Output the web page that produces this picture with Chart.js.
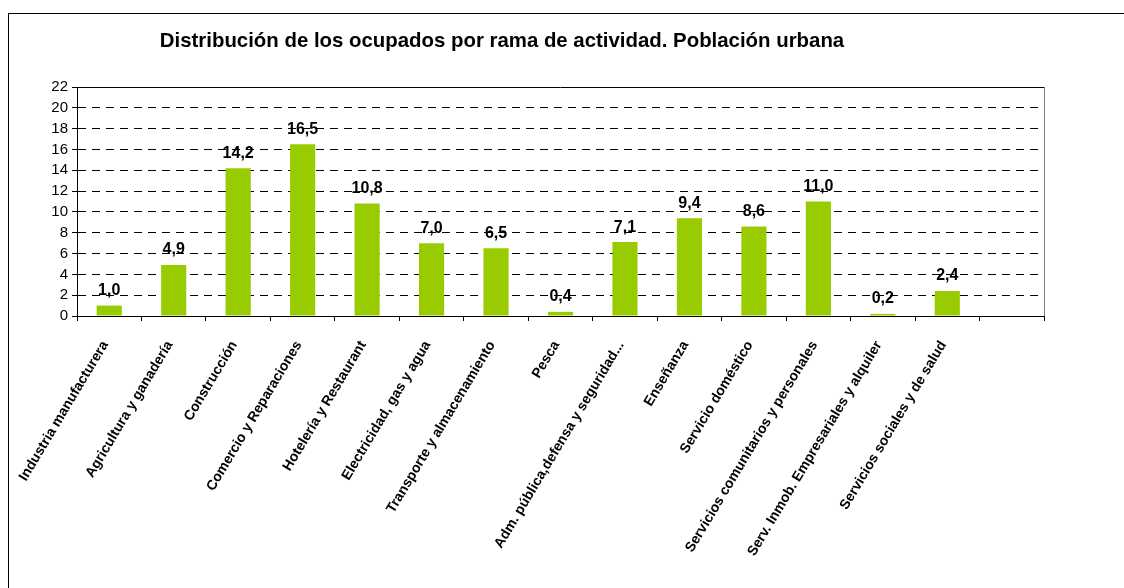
<!DOCTYPE html>
<html>
<head>
<meta charset="utf-8">
<script src="https://cdn.jsdelivr.net/npm/chart.js@4/dist/chart.umd.min.js"></script>
<style>
  body { margin: 0; background: #fff; }
  #frame { position: absolute; left: 8px; top: 13px; width: 1200px; height: 700px; border-left: 1px solid #000; border-top: 1px solid #000; }
  #chart { position: absolute; left: 0; top: 0; }
</style>
</head>
<body>
<div id="frame"></div>
<canvas id="chart" width="1124" height="588"></canvas>
<script>
// Distribución de los ocupados por rama de actividad
const categories = [
  'Industria manufacturera', 'Agricultura y ganadería', 'Construcción',
  'Comercio y Reparaciones', 'Hotelería y Restaurant', 'Electricidad, gas y agua',
  'Transporte y almacenamiento', 'Pesca', 'Adm. pública,defensa y seguridad...',
  'Enseñanza', 'Servicio doméstico', 'Servicios comunitarios y personales',
  'Serv. Inmob. Empresariales y alquiler', 'Servicios sociales y de salud', ''
];
const ocupados = [1.0, 4.9, 14.2, 16.5, 10.8, 7.0, 6.5, 0.4, 7.1, 9.4, 8.6, 11.0, 0.2, 2.4, null];
const yTicks = [0, 2, 4, 6, 8, 10, 12, 14, 16, 18, 20, 22];
const titulo = 'Distribución de los ocupados por rama de actividad. Población urbana';

const fmt = v => v.toFixed(1).replace('.', ',');

// etiquetas de valor sobre las barras
const valueLabels = {
  id: 'valueLabels',
  afterDatasetsDraw(chart) {
    const ctx = chart.ctx;
    const meta = chart.getDatasetMeta(0);
    ctx.save();
    ctx.font = 'bold 16px "Liberation Sans", Arial, sans-serif';
    ctx.fillStyle = '#000';
    ctx.textAlign = 'center';
    ctx.textBaseline = 'bottom';
    meta.data.forEach((bar, i) => {
      const v = ocupados[i];
      if (v === null) return;
      ctx.fillText(fmt(v), bar.x, bar.y - 7);
    });
    ctx.restore();
  }
};

// borde superior y derecho del área de trazado + título
const plotBox = {
  id: 'plotBox',
  afterDraw(chart) {
    const { ctx, chartArea: a } = chart;
    ctx.save();
    ctx.lineWidth = 1;
    ctx.strokeStyle = '#000';
    ctx.beginPath();
    ctx.moveTo(a.left, a.top + 0.5);
    ctx.lineTo(a.right, a.top + 0.5);
    ctx.stroke();
    ctx.strokeStyle = '#808080';
    ctx.beginPath();
    ctx.moveTo(a.right + 0.5, a.top);
    ctx.lineTo(a.right + 0.5, a.bottom);
    ctx.stroke();
    ctx.font = 'bold 20.4px "Liberation Sans", Arial, sans-serif';
    ctx.fillStyle = '#000';
    ctx.textAlign = 'center';
    ctx.textBaseline = 'middle';
    ctx.fillText(titulo, 502, 41);
    ctx.restore();
  }
};

new Chart(document.getElementById('chart'), {
  type: 'bar',
  data: {
    labels: categories,
    datasets: [{
      data: ocupados,
      backgroundColor: '#99CC00',
      borderWidth: 0,
      barPercentage: 0.39,
      categoryPercentage: 1
    }]
  },
  options: {
    responsive: false,
    devicePixelRatio: 1,
    animation: false,
    layout: { padding: { left: 0, right: 80, top: 87, bottom: 0 } },
    scales: {
      y: {
        min: 0,
        max: 22,
        afterBuildTicks: scale => { scale.ticks = yTicks.map(v => ({ value: v })); },
        afterFit: scale => { scale.width = 77; },
        ticks: {
          color: '#000',
          autoSkip: false,
          padding: 4,
          font: { family: '"Liberation Sans", Arial, sans-serif', size: 15 }
        },
        grid: {
          color: c => (c.tick && (c.tick.value === 0 || c.tick.value === 22)) ? 'rgba(0,0,0,0)' : '#000',
          tickColor: '#000',
          tickLength: 5,
          lineWidth: 1
        },
        border: { color: '#000', width: 1, dash: [8, 6] }
      },
      x: {
        afterFit: scale => { scale.height = 272; },
        ticks: {
          color: '#000',
          autoSkip: false,
          maxRotation: 59,
          minRotation: 59,
          padding: 17,
          labelOffset: -4,
          font: { family: '"Liberation Sans", Arial, sans-serif', size: 14, weight: 'bold' }
        },
        grid: {
          offset: true,
          drawOnChartArea: false,
          drawTicks: true,
          tickLength: 5,
          tickColor: '#000'
        },
        border: { color: '#000', width: 1 }
      }
    },
    plugins: {
      legend: { display: false },
      title: { display: false },
      tooltip: { enabled: false }
    }
  },
  plugins: [valueLabels, plotBox]
});
</script>
</body>
</html>
